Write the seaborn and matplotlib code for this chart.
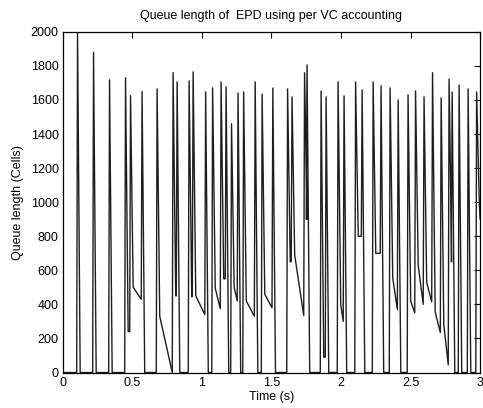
import matplotlib
matplotlib.use("Agg")
import matplotlib.pyplot as plt
import pandas as pd
import seaborn as sns

# Queue bursts under EPD with per-VC accounting.
# For every burst: time of the peak (s), peak height (cells),
# level reached right after the discard/drain drop, and the level
# the queue has drained to just before the next burst starts.
peak_time = [0.106, 0.221, 0.336, 0.451, 0.487, 0.570, 0.678, 0.793, 0.822,
             0.908, 0.937, 1.027, 1.077, 1.138, 1.174, 1.213, 1.260, 1.300,
             1.383, 1.433, 1.510, 1.616, 1.648, 1.738, 1.756, 1.857, 1.893,
             1.979, 2.022, 2.105, 2.152, 2.231, 2.288, 2.353, 2.411, 2.482,
             2.536, 2.597, 2.658, 2.720, 2.777, 2.799, 2.849, 2.914, 2.975]
peak_cells = [2000, 1880, 1718, 1730, 1625, 1650, 1665, 1760, 1706,
              1712, 1765, 1647, 1671, 1706, 1677, 1460, 1641, 1647,
              1706, 1635, 1670, 1665, 1618, 1760, 1805, 1653, 1618,
              1706, 1624, 1706, 1659, 1706, 1683, 1671, 1600, 1630,
              1653, 1618, 1760, 1612, 1723, 1647, 1688, 1665, 1647]
drop_cells = [0, 0, 0, 240, 500, 0, 330, 450, 0,
              445, 450, 0, 495, 550, 0, 500, 0, 420,
              0, 460, 0, 650, 690, 900, 0, 90, 0,
              400, 0, 800, 0, 700, 0, 555, 0, 420,
              630, 530, 355, 280, 650, 0, 0, 0, 1000]
settle_cells = [0, 0, 0, 240, 430, 0, 0, 450, 0,
                445, 340, 0, 375, 550, 0, 420, 0, 330,
                0, 380, 0, 650, 335, 900, 0, 90, 0,
                300, 0, 800, 0, 700, 0, 370, 0, 350,
                400, 415, 235, 45, 650, 0, 0, 0, 900]

x_ticks = [0, 0.5, 1, 1.5, 2, 2.5, 3]
x_tick_labels = ["0", "0.5", "1", "1.5", "2", "2.5", "3"]
y_ticks = list(range(0, 2001, 200))

# shape of one burst: near-vertical fill, slightly slower drain
RISE = 0.006
FALL = 0.019
END_TIME = 3.0

times = [0.0]
cells = [0.0]
level = 0.0
for t, p, d, s in zip(peak_time, peak_cells, drop_cells, settle_cells):
    times += [t - RISE, t, t + FALL]
    cells += [level, p, d]
    level = s
times.append(END_TIME)
cells.append(level)

df = pd.DataFrame({"Time (s)": times, "Queue length (Cells)": cells})

sns.set_theme(style="white")
plt.rcParams["font.family"] = ["Liberation Sans", "DejaVu Sans"]

fig = plt.figure(figsize=(4.83, 4.08), dpi=100)
ax = fig.add_axes([0.130, 0.087, 0.864, 0.835])

sns.lineplot(data=df, x="Time (s)", y="Queue length (Cells)", ax=ax,
             estimator=None, sort=False, color="#1e1e1e", linewidth=1.0)

ax.set_xlim(0, 3)
ax.set_ylim(0, 2000)
ax.set_xticks(x_ticks)
ax.set_xticklabels(x_tick_labels)
ax.set_yticks(y_ticks)
ax.tick_params(direction="in", length=4, width=0.8, color="black",
               top=True, right=True, labelsize=9, pad=3, labelcolor="black")
for sp in ax.spines.values():
    sp.set_visible(True)
    sp.set_color("black")
    sp.set_linewidth(0.9)

ax.set_title("Queue length of  EPD using per VC accounting", fontsize=9,
             pad=9, color="black")
ax.set_xlabel("Time (s)", fontsize=9, labelpad=2, color="black")
ax.set_ylabel("Queue length (Cells)", fontsize=9, labelpad=5, color="black")

fig.savefig("out.png", dpi=100, facecolor="white")
